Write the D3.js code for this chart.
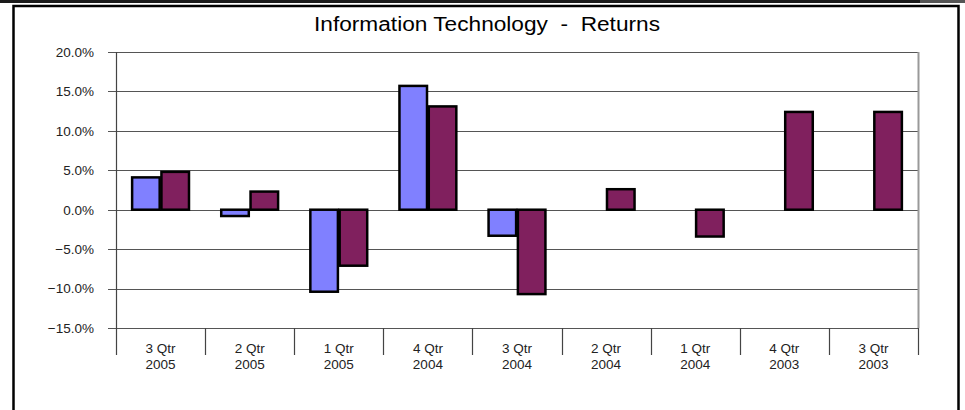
<!DOCTYPE html>
<html>
<head>
<meta charset="utf-8">
<script src="https://cdn.jsdelivr.net/npm/d3@7"></script>
<style>
	body { margin: 0; background: #fff; }
	svg { display: block; font-family: "Liberation Sans", Arial, sans-serif; }
	.title { white-space: pre; }
</style>
</head>
<body>
<div id="app"></div>
<script>
const quarters = ['3 Qtr', '2 Qtr', '1 Qtr', '4 Qtr', '3 Qtr', '2 Qtr', '1 Qtr', '4 Qtr', '3 Qtr'];
const years = ['2005', '2005', '2005', '2004', '2004', '2004', '2004', '2003', '2003'];
const seriesA = [4.1, -0.8, -10.4, 15.7, -3.3, null, null, null, null];
const seriesB = [4.8, 2.3, -7.1, 13.1, -10.7, 2.6, -3.4, 12.4, 12.4];
const yTicks = [20, 15, 10, 5, 0, -5, -10, -15];
const title = 'Information Technology  -  Returns';

const width = 965;
const height = 410;
const plot = {left: 116, right: 918, top: 52, bottom: 328};

const svg = d3.select('#app').append('svg')
	.attr('width', width)
	.attr('height', height);

// dark strip at the very top
svg.append('rect').attr('x', 0).attr('y', 0).attr('width', 920).attr('height', 3).attr('fill', '#1a1a1a');
svg.append('rect').attr('x', 920).attr('y', 0).attr('width', 45).attr('height', 3).attr('fill', '#555');

// outer frame (bottom runs off the picture)
svg.append('path')
	.attr('d', 'M13.5,420 V6 H958.5 V420')
	.attr('fill', 'none')
	.attr('stroke', '#000')
	.attr('stroke-width', 2.5);

const x = d3.scaleBand()
	.domain(d3.range(quarters.length))
	.range([plot.left, plot.right]);

const y = d3.scaleLinear()
	.domain([-15, 20])
	.range([plot.bottom, plot.top]);

svg.append('text')
	.attr('class', 'title')
	.attr('x', 487)
	.attr('y', 31)
	.attr('text-anchor', 'middle')
	.attr('font-size', 20)
	.attr('textLength', 346)
	.attr('lengthAdjust', 'spacingAndGlyphs')
	.attr('fill', '#000')
	.text(title);

// gridlines
svg.append('g')
	.selectAll('line')
	.data(yTicks)
	.enter()
	.append('line')
	.attr('x1', plot.left - 8)
	.attr('x2', plot.right)
	.attr('y1', (d) => Math.round(y(d)) + 0.5)
	.attr('y2', (d) => Math.round(y(d)) + 0.5)
	.attr('stroke', '#555')
	.attr('stroke-width', 1.2);

// right border of the plot area
svg.append('line')
	.attr('x1', plot.right + 0.5).attr('x2', plot.right + 0.5)
	.attr('y1', plot.top).attr('y2', plot.bottom)
	.attr('stroke', '#999')
	.attr('stroke-width', 2);

// y axis
const yAxis = d3.axisLeft(y)
	.tickValues(yTicks)
	.tickSize(0)
	.tickPadding(22)
	.tickFormat((d) => d3.format('.1f')(d) + '%');

const yg = svg.append('g')
	.attr('transform', `translate(${plot.left},0)`)
	.call(yAxis);
yg.select('.domain').remove();
yg.selectAll('text')
	.attr('font-size', 13.5)
	.attr('font-family', '"Liberation Sans", Arial, sans-serif')
	.attr('fill', '#222');

svg.append('line')
	.attr('x1', plot.left + 0.5).attr('x2', plot.left + 0.5)
	.attr('y1', plot.top).attr('y2', 355)
	.attr('stroke', '#444')
	.attr('stroke-width', 1.2);

// category separators below the plot
svg.append('g')
	.selectAll('line')
	.data(d3.range(1, quarters.length + 1))
	.enter()
	.append('line')
	.attr('x1', (d) => Math.round(x(d - 1) + x.bandwidth()) + 0.5)
	.attr('x2', (d) => Math.round(x(d - 1) + x.bandwidth()) + 0.5)
	.attr('y1', plot.bottom)
	.attr('y2', 355)
	.attr('stroke', '#444')
	.attr('stroke-width', 1.2);

// category labels
const labels = svg.append('g')
	.selectAll('text')
	.data(d3.range(quarters.length))
	.enter()
	.append('text')
	.attr('text-anchor', 'middle')
	.attr('font-size', 13.5)
	.attr('fill', '#222')
	.attr('x', (i) => x(i) + x.bandwidth() / 2);
labels.append('tspan')
	.attr('x', (i) => x(i) + x.bandwidth() / 2)
	.attr('y', 353)
	.text((i) => quarters[i]);
labels.append('tspan')
	.attr('x', (i) => x(i) + x.bandwidth() / 2)
	.attr('y', 369)
	.text((i) => years[i]);

// bars
const inner = d3.scaleBand()
	.domain([0, 1])
	.range([0, x.bandwidth()])
	.paddingInner(0.06)
	.paddingOuter(0.55);

const bars = [];
seriesA.forEach((v, i) => { if (v !== null) bars.push({i, s: 0, v}); });
seriesB.forEach((v, i) => { if (v !== null) bars.push({i, s: 1, v}); });

const colors = ['#8080ff', '#80205e'];

svg.append('g')
	.selectAll('rect')
	.data(bars)
	.enter()
	.append('rect')
	.attr('x', (d) => x(d.i) + inner(d.s))
	.attr('width', inner.bandwidth())
	.attr('y', (d) => Math.min(y(d.v), y(0)))
	.attr('height', (d) => Math.abs(y(d.v) - y(0)))
	.attr('fill', (d) => colors[d.s])
	.attr('stroke', '#000')
	.attr('stroke-width', 2.5);
</script>
</body>
</html>
